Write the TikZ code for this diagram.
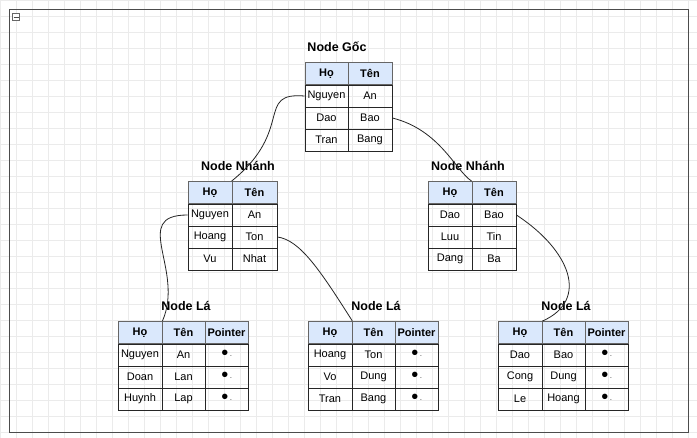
\documentclass[tikz,border=0pt]{standalone}
\usepackage{fontspec}
\setmainfont{Liberation Sans}
\definecolor{hdblue}{HTML}{DAE8FC}
\begin{document}
\begin{tikzpicture}[x=1pt,y=-1pt,
  cell/.style={draw=black!85,line width=0.8pt,minimum height=22pt,inner sep=0pt,font=\fontsize{11}{12}\selectfont},
  hd/.style={cell,fill=hdblue,draw=black!60,font=\fontsize{11}{12}\selectfont\bfseries},
  ttl/.style={font=\fontsize{12.5}{14}\selectfont\bfseries,inner sep=0pt},
  link/.style={draw=black!85,line width=0.8pt}]
\useasboundingbox (0,0) rectangle (697,438);
\fill[white] (0,0) rectangle (697,438);
\foreach \g in {0,16,...,697} {\draw[black!8] (\g,0) -- (\g,438);}
\foreach \g in {0,16,...,438} {\draw[black!8] (0,\g) -- (697,\g);}
\draw[black!70] (9,9) rectangle (688,432);
\node[draw=black!60,fill=white,minimum size=7pt,inner sep=0pt] (col) at (16,17) {};
\draw[black!70] (13.5,17) -- (18.5,17);
% root
\node[ttl] (tr) at (337,47) {Node Gốc};
\node[hd,minimum width=43pt] (r0a) at (326.5,73.5) {Họ};
\node[hd,minimum width=44pt] (r0b) at (370,73.5) {Tên};
\node[cell,minimum width=43pt] (r1a) at (326.5,96) {Nguyen};
\node[cell,minimum width=44pt] (r1b) at (370,96) {An};
\node[cell,minimum width=43pt] (r2a) at (326.5,118) {Dao};
\node[cell,minimum width=44pt] (r2b) at (370,118) {Bao};
\node[cell,minimum width=43pt] (r3a) at (326.5,140) {Tran};
\node[cell,minimum width=44pt] (r3b) at (370,140) {Bang};
% mid left
\node[ttl] (tml) at (238,166) {Node Nhánh};
\node[hd,minimum width=44pt] (a0a) at (210,192.5) {Họ};
\node[hd,minimum width=45pt] (a0b) at (254.5,192.5) {Tên};
\node[cell,minimum width=44pt] (a1a) at (210,215) {Nguyen};
\node[cell,minimum width=45pt] (a1b) at (254.5,215) {An};
\node[cell,minimum width=44pt] (a2a) at (210,237) {Hoang};
\node[cell,minimum width=45pt] (a2b) at (254.5,237) {Ton};
\node[cell,minimum width=44pt] (a3a) at (210,259) {Vu};
\node[cell,minimum width=45pt] (a3b) at (254.5,259) {Nhat};
% mid right
\node[ttl] (tmr) at (468,166) {Node Nhánh};
\node[hd,minimum width=44pt] (b0a) at (450,192.5) {Họ};
\node[hd,minimum width=44pt] (b0b) at (494,192.5) {Tên};
\node[cell,minimum width=44pt] (b1a) at (450,215) {Dao};
\node[cell,minimum width=44pt] (b1b) at (494,215) {Bao};
\node[cell,minimum width=44pt] (b2a) at (450,237) {Luu};
\node[cell,minimum width=44pt] (b2b) at (494,237) {Tin};
\node[cell,minimum width=44pt] (b3a) at (450,259) {Dang};
\node[cell,minimum width=44pt] (b3b) at (494,259) {Ba};
% leaves
\newcommand{\ptr}{\raisebox{-1pt}{\fontsize{20}{20}\selectfont\textbullet}\,\raisebox{1.5pt}{\fontsize{5}{5}\selectfont-}}
\foreach \n/\x/\ta/\tb/\tc/\td/\te/\tf in {l/118/Nguyen/An/Doan/Lan/Huynh/Lap, m/308/Hoang/Ton/Vo/Dung/Tran/Bang, n/498/Dao/Bao/Cong/Dung/Le/Hoang}{
  \node[ttl] (t\n) at (\x+68,306) {Node Lá};
  \node[hd,minimum width=44pt] (\n0a) at (\x+22,332.5) {Họ};
  \node[hd,minimum width=43pt] (\n0b) at (\x+65.5,332.5) {Tên};
  \node[hd,minimum width=43pt] (\n0c) at (\x+108.5,332.5) {Pointer};
  \node[cell,minimum width=44pt] (\n1a) at (\x+22,355) {\ta};
  \node[cell,minimum width=43pt] (\n1b) at (\x+65.5,355) {\tb};
  \node[cell,minimum width=43pt] (\n1c) at (\x+108.5,355) {\ptr};
  \node[cell,minimum width=44pt] (\n2a) at (\x+22,377) {\tc};
  \node[cell,minimum width=43pt] (\n2b) at (\x+65.5,377) {\td};
  \node[cell,minimum width=43pt] (\n2c) at (\x+108.5,377) {\ptr};
  \node[cell,minimum width=44pt] (\n3a) at (\x+22,399) {\te};
  \node[cell,minimum width=43pt] (\n3b) at (\x+65.5,399) {\tf};
  \node[cell,minimum width=43pt] (\n3c) at (\x+108.5,399) {\ptr};
}
% connectors
\draw[link] (r1a.west) .. controls (255,92) and (295,130) .. (a0b.north west);
\draw[link] (r2b.east) .. controls (440,130) and (455,170) .. (b0b.north west);
\draw[link] (a1a.west) .. controls (130,215) and (185,270) .. (l0a.north east);
\draw[link] (a2b.east) .. controls (300,240) and (320,270) .. (m0a.north east);
\draw[link] (b1b.east) .. controls (570,250) and (590,300) .. (n0a.north east);
\end{tikzpicture}
\end{document}
